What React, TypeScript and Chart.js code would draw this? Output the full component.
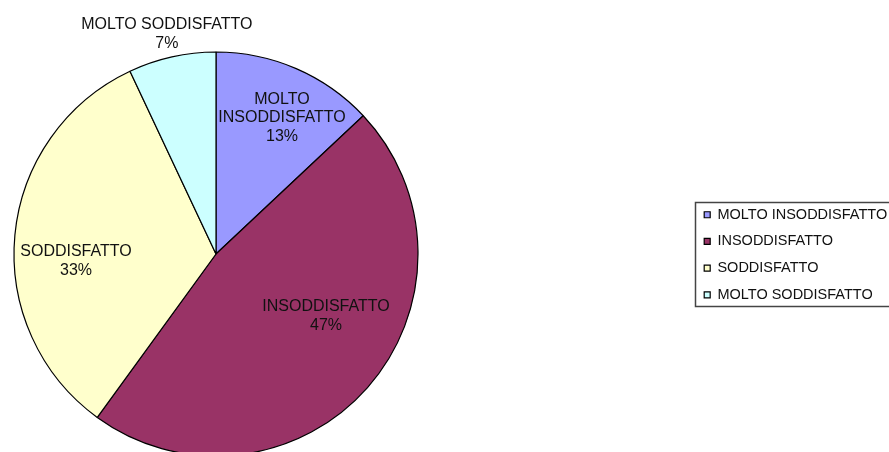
import React, { useEffect, useRef } from 'react';
import { Chart, registerables } from 'chart.js';

Chart.register(...registerables);

// ---- data ----
const categories = ['MOLTO INSODDISFATTO', 'INSODDISFATTO', 'SODDISFATTO', 'MOLTO SODDISFATTO'];
const labelLines = [['MOLTO', 'INSODDISFATTO'], ['INSODDISFATTO'], ['SODDISFATTO'], ['MOLTO SODDISFATTO']];
const values = [13, 47, 33, 7];
const colors = ['#9999FF', '#993366', '#FFFFCC', '#CCFFFF'];
// label anchor: angle (deg, clockwise from 12 o'clock) and distance as a fraction of the radius
const labelAngles = [25.9, 119.4, 267.1, 347.4];
const labelRadii = [0.748, 0.625, 0.694, 1.116];

const FONT = '"Liberation Sans", Arial, Helvetica, sans-serif';

const sliceLabels = {
  id: 'sliceLabels',
  afterDatasetsDraw(chart: any) {
    const meta = chart.getDatasetMeta(0);
    const ctx = chart.ctx;
    const total = values.reduce((a, b) => a + b, 0);
    ctx.save();
    ctx.font = '16px ' + FONT;
    ctx.fillStyle = '#111';
    ctx.textAlign = 'center';
    ctx.textBaseline = 'middle';
    meta.data.forEach((arc: any, i: number) => {
      const { x, y, outerRadius } = arc.getProps(['x', 'y', 'outerRadius'], true);
      const a = (labelAngles[i] * Math.PI) / 180;
      const r = outerRadius * labelRadii[i];
      const cx = x + r * Math.sin(a);
      const cy = y - r * Math.cos(a);
      const lines = [...labelLines[i], Math.round((values[i] / total) * 100) + '%'];
      const lh = 18.5;
      lines.forEach((t, j) => ctx.fillText(t, cx, cy + (j - (lines.length - 1) / 2) * lh));
    });
    ctx.restore();
  },
};

const legendPlacer = {
  id: 'legendPlacer',
  afterLayout(chart: any) {
    const lg = chart.legend;
    if (!lg) return;
    const w = lg.width;
    lg.left = 692;
    lg.right = lg.left + w;
    lg.top = 195.3;
    lg.bottom = lg.top + 220;
  },
  afterDraw(chart: any) {
    const ctx = chart.ctx;
    ctx.save();
    ctx.strokeStyle = '#444';
    ctx.lineWidth = 1.5;
    ctx.strokeRect(695.5, 202.5, 300, 104);
    ctx.restore();
  },
};

export default function App() {
  const ref = useRef<HTMLCanvasElement | null>(null);
  useEffect(() => {
    if (!ref.current) return;
    const chart = new Chart(ref.current, {
      type: 'pie',
      data: {
        labels: categories,
        datasets: [
          {
            data: values,
            backgroundColor: colors,
            borderColor: '#000',
            borderWidth: 1.2,
            radius: 202,
          } as any,
        ],
      },
      options: {
        responsive: false,
        animation: false,
        devicePixelRatio: 1,
        layout: { padding: { left: 0, right: 457, top: 56, bottom: 0 } },
        plugins: {
          tooltip: { enabled: false },
          title: { display: false },
          legend: {
            display: true,
            position: 'chartArea' as any,
            align: 'start',
            labels: {
              boxWidth: 6,
              boxHeight: 6,
              padding: 12.2,
              color: '#111',
              font: { size: 14.5, family: FONT },
            },
          },
        },
      },
      plugins: [sliceLabels, legendPlacer],
    });
    return () => chart.destroy();
  }, []);
  return (
    <canvas
      ref={ref}
      width={889}
      height={452}
      style={{ position: 'fixed', top: 0, left: 0, width: 889, height: 452, background: '#fff' }}
    />
  );
}
